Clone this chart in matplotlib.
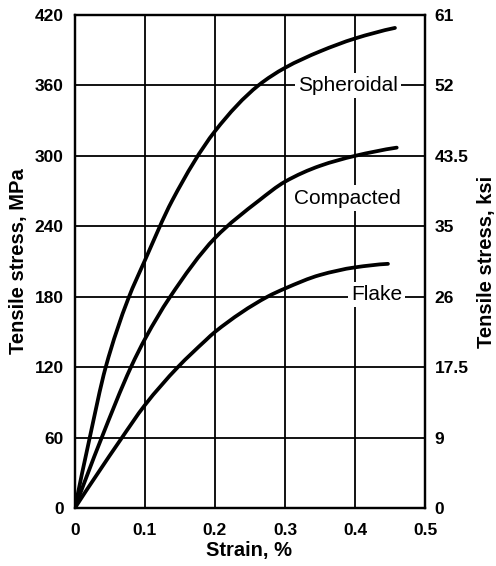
import matplotlib
matplotlib.use("Agg")
import matplotlib.pyplot as plt
import numpy as np
from matplotlib.path import Path
from matplotlib.patches import PathPatch

# Data
spheroidal_strain = [0, 0.0205, 0.044, 0.076, 0.1, 0.139, 0.2, 0.262, 0.3, 0.35, 0.4, 0.457]
spheroidal_stress = [0, 58, 120, 178, 211, 262, 321, 360, 375, 389, 400, 409]

compacted_strain = [0, 0.037, 0.08, 0.101, 0.135, 0.2, 0.263, 0.3, 0.35, 0.4, 0.4595]
compacted_stress = [0, 58, 120, 145, 179, 230, 262, 278, 291.5, 300, 307]

flake_strain = [0, 0.065, 0.1, 0.147, 0.187, 0.2, 0.275, 0.3, 0.35, 0.4, 0.447]
flake_stress = [0, 58, 87.7, 120, 143, 150, 180, 187, 198.5, 205, 208]

x_ticks = [0, 0.1, 0.2, 0.3, 0.4, 0.5]
x_ticklabels = ["0", "0.1", "0.2", "0.3", "0.4", "0.5"]
mpa_ticks = [0, 60, 120, 180, 240, 300, 360, 420]
ksi_labels = ["0", "9", "17.5", "26", "35", "43.5", "52", "61"]

curve_labels = ["Spheroidal", "Compacted", "Flake"]
label_pos = [(0.39, 360), (0.389, 264), (0.431, 182)]

fam = ["Liberation Sans", "DejaVu Sans"]


def smooth_path(xs, ys):
    """Smooth Bezier path through the read points (monotone cubic tangents)."""
    x = np.asarray(xs, float)
    y = np.asarray(ys, float)
    h = np.diff(x)
    d = np.diff(y) / h
    n = len(x)
    m = np.zeros(n)
    for i in range(1, n - 1):
        if d[i - 1] * d[i] <= 0:
            m[i] = 0
        else:
            w1 = 2 * h[i] + h[i - 1]
            w2 = h[i] + 2 * h[i - 1]
            m[i] = (w1 + w2) / (w1 / d[i - 1] + w2 / d[i])
    m[0] = ((2 * h[0] + h[1]) * d[0] - h[0] * d[1]) / (h[0] + h[1])
    if m[0] * d[0] <= 0:
        m[0] = 0
    m[-1] = ((2 * h[-1] + h[-2]) * d[-1] - h[-1] * d[-2]) / (h[-1] + h[-2])
    if m[-1] * d[-1] <= 0:
        m[-1] = 0
    verts = [(x[0], y[0])]
    codes = [Path.MOVETO]
    for i in range(n - 1):
        verts += [(x[i] + h[i] / 3, y[i] + m[i] * h[i] / 3),
                  (x[i + 1] - h[i] / 3, y[i + 1] - m[i + 1] * h[i] / 3),
                  (x[i + 1], y[i + 1])]
        codes += [Path.CURVE4] * 3
    return Path(verts, codes)


fig = plt.figure(figsize=(4.96, 5.66), dpi=100)
ax = fig.add_axes([0.151, 0.1025, 0.706, 0.871])

ax.set_xlim(0, 0.5)
ax.set_ylim(0, 420)
ax.set_xticks(x_ticks)
ax.set_xticklabels(x_ticklabels)
ax.set_yticks(mpa_ticks)
ax.set_yticklabels([str(v) for v in mpa_ticks])
ax.grid(True, color="black", linewidth=1.3)
ax.set_axisbelow(True)
for s in ax.spines.values():
    s.set_linewidth(1.6)
ax.tick_params(axis="y", length=0, labelsize=12.5, pad=8)
ax.tick_params(axis="x", length=0, labelsize=12.5, pad=11)
for lab in ax.get_xticklabels() + ax.get_yticklabels():
    lab.set_family(fam)
    lab.set_fontweight("bold")

for xs, ys in [(spheroidal_strain, spheroidal_stress),
               (compacted_strain, compacted_stress),
               (flake_strain, flake_stress)]:
    patch = PathPatch(smooth_path(xs, ys), fill=False, edgecolor="black",
                      linewidth=2.7, capstyle="round", zorder=3,
                      transform=ax.transData)
    ax.add_patch(patch)

for name, (px, py) in zip(curve_labels, label_pos):
    ax.text(px, py, name, ha="center", va="center", fontsize=15, family=fam,
            zorder=4, bbox=dict(boxstyle="square,pad=0.15", fc="white", ec="none"))

ax2 = ax.twinx()
ax2.set_ylim(0, 420)
ax2.set_yticks(mpa_ticks)
ax2.set_yticklabels(ksi_labels)
ax2.tick_params(length=0, labelsize=12.5, pad=7)
for lab in ax2.get_yticklabels():
    lab.set_family(fam)
    lab.set_fontweight("bold")
for s in ax2.spines.values():
    s.set_linewidth(1.6)

ax.set_xlabel("Strain, %", fontsize=14.5, family=fam, fontweight="bold")
ax.xaxis.set_label_coords(0.497, -0.067)
ax.set_ylabel("Tensile stress, MPa", fontsize=14.5, family=fam, fontweight="bold")
ax.yaxis.set_label_coords(-0.134, 0.5)
ax2.set_ylabel("Tensile stress, ksi", fontsize=14.5, family=fam, fontweight="bold")
ax2.yaxis.set_label_coords(1.149, 0.5)

fig.savefig("out.png", dpi=100)
